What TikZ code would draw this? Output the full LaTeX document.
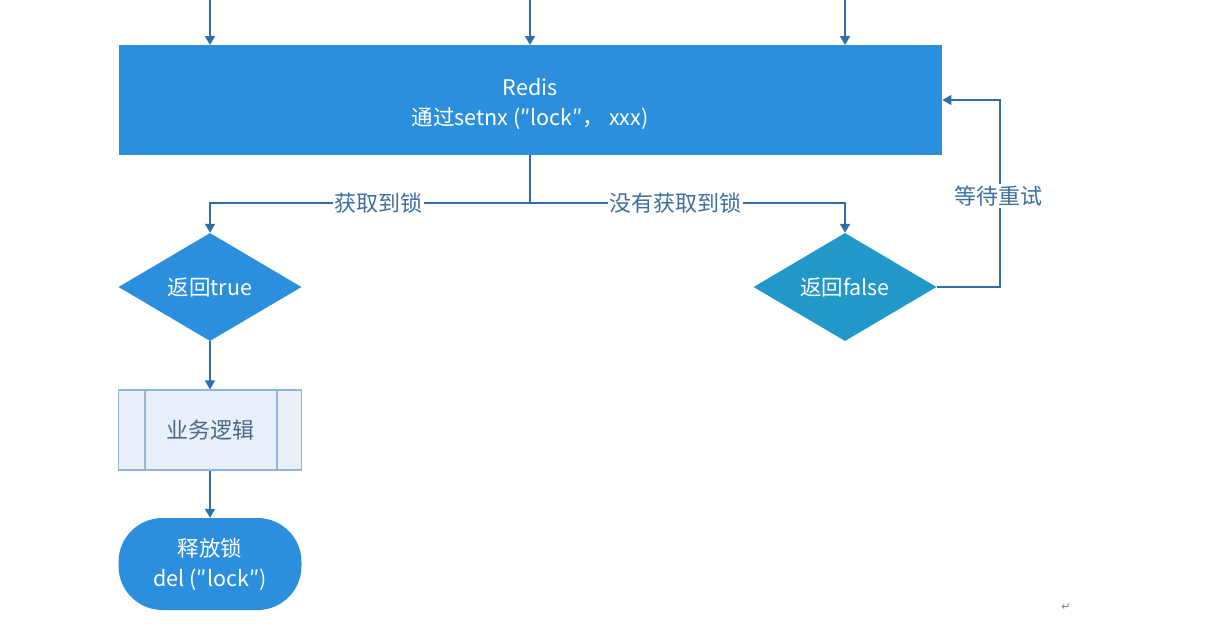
\documentclass[tikz,border=0pt]{standalone}
\usepackage{fontspec}
\setmainfont{Noto Sans CJK SC}
\newfontfamily\djv{DejaVu Sans}
\usetikzlibrary{shapes.geometric,arrows.meta}
\definecolor{mainblue}{HTML}{2B8FDD}
\definecolor{tealblue}{HTML}{2298C8}
\definecolor{linecol}{HTML}{2F6EA6}
\definecolor{labelcol}{HTML}{3D6F9F}
\definecolor{procfill}{HTML}{E9EFF8}
\definecolor{procline}{HTML}{92B5DC}
\definecolor{proctext}{HTML}{4B6985}
\tikzset{
  flow/.style={draw=linecol, line width=1.5pt, -{Triangle[length=9pt,width=10pt]}},
  plain/.style={draw=linecol, line width=1.5pt},
  lbl/.style={fill=white, text=labelcol, inner sep=1.5pt, font=\fontsize{22}{24}\selectfont},
  txt/.style={text=white, font=\fontsize{21.5}{30}\selectfont, align=center},
  dia/.style={diamond, minimum width=183pt, minimum height=108pt, inner sep=0pt, aspect=1.7},
}
\begin{document}
\begin{tikzpicture}[x=1pt,y=-1pt]
\useasboundingbox (0,0) rectangle (1217,633);
% main box
\node[fill=mainblue, minimum width=823pt, minimum height=110pt, inner sep=0pt, anchor=north west] (redis) at (119,45) {};
\node[txt] (redistxt) at (530,104) {Redis\\通过setnx (″lock″，\ xxx)};
% top incoming arrows
\coordinate (t1) at (210,0);
\coordinate (t2) at (530,0);
\coordinate (t3) at (845,0);
\draw[flow] (t1) -- (t1 |- redis.north);
\draw[flow] (t2) -- (t2 |- redis.north);
\draw[flow] (t3) -- (t3 |- redis.north);
% diamonds
\node[dia, fill=mainblue] (dtrue) at (210,287) {};
\node[txt] at (210,287) {返回true};
\node[dia, fill=tealblue] (dfalse) at (845,287) {};
\node[txt] at (845,287) {返回false};
% split
\coordinate (split) at (530,203);
\draw[plain] (redis.south -| split) -- (split);
\draw[flow] (split) -- (210,203) -- (dtrue.north);
\draw[flow] (split) -- (845,203) -- (dfalse.north);
\node[lbl] (l1) at (378,203) {获取到锁};
\node[lbl] (l2) at (675,203) {没有获取到锁};
% retry loop
\coordinate (r1) at (1000,287);
\coordinate (r2) at (1000,100);
\draw[flow] (dfalse.east) -- (r1) -- (r2) -- (redis.east |- r2);
\node[lbl] (l3) at (998,196) {等待重试};
% process box
\node[fill=procfill, draw=procline, line width=1.2pt, minimum width=183pt, minimum height=80pt, inner sep=0pt] (proc) at (210,430) {};
\draw[procline, line width=1.2pt] (145,390) -- (145,470) (277,390) -- (277,470);
\node[text=proctext, font=\fontsize{22}{24}\selectfont] at (proc.center) {业务逻辑};
\draw[flow] (dtrue.south) -- (proc.north);
% terminal
\node[fill=mainblue, rounded corners=44pt, minimum width=183pt, minimum height=92pt, inner sep=0pt] (term) at (210,564) {};
\node[txt] at (term.center) {释放锁\\del (″lock″)};
\draw[flow] (proc.south) -- (term.north);
% paragraph mark
\node[text=gray, font=\djv\fontsize{11}{12}\selectfont] (pm) at (1066,607) {↵};
\end{tikzpicture}
\end{document}
